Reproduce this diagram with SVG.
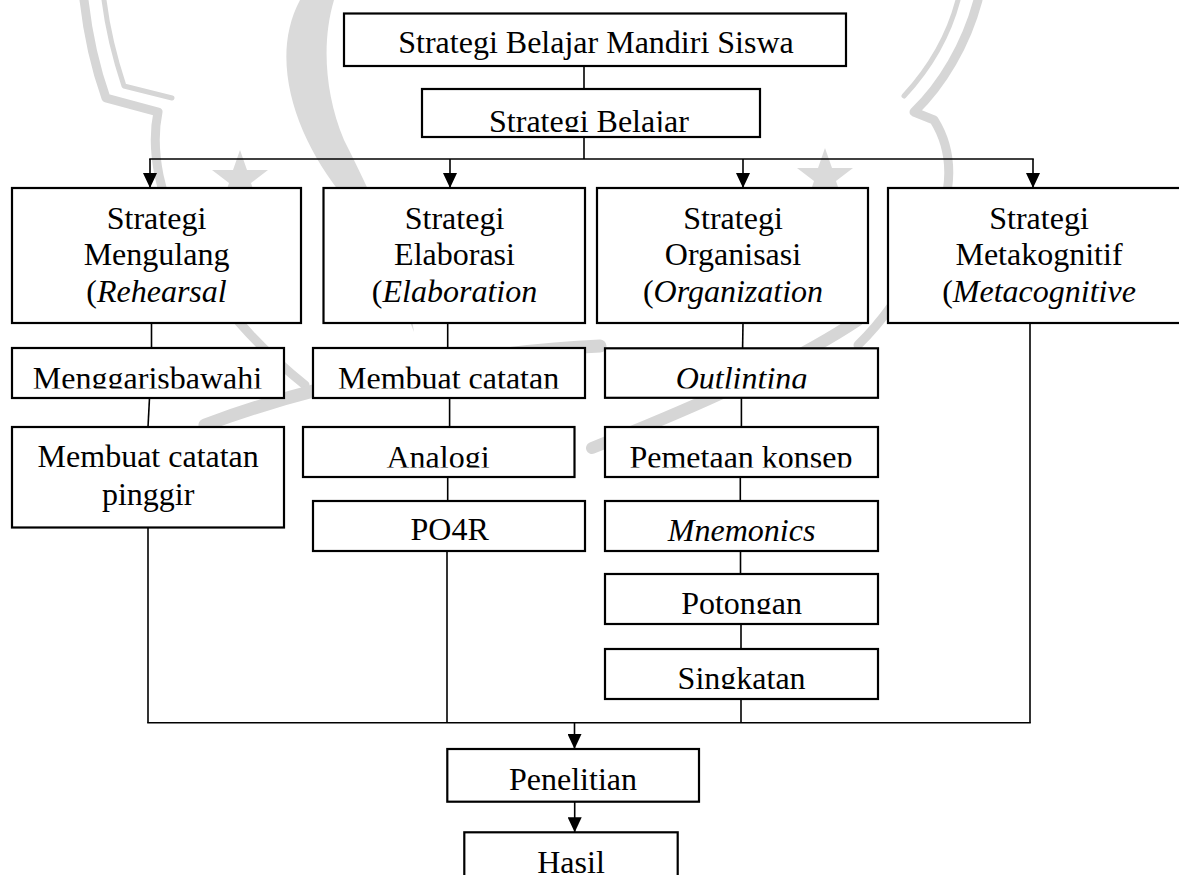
<svg xmlns="http://www.w3.org/2000/svg" width="1179" height="875" viewBox="0 0 1179 875">
<style>
.box{fill:#fff;stroke:#000;stroke-width:2.2}
.t{font-family:"Liberation Serif","Times New Roman",serif;font-size:32px;fill:#000;text-anchor:middle}
.i{font-style:italic}
.c{fill:none;stroke:#000;stroke-width:1.6}
.wm{fill:none;stroke:#d6d6d6;stroke-linecap:round;stroke-linejoin:round}
.wmf{fill:#dadada;stroke:none}
</style>
<defs>
<marker id="arr" markerUnits="userSpaceOnUse" markerWidth="15" markerHeight="14" refX="15" refY="7" orient="auto">
<path d="M0,0 L15,7 L0,14 z" fill="#000"/>
</marker>
<clipPath id="cp2"><rect x="422" y="89" width="338" height="43"/></clipPath>
<clipPath id="cpMg"><rect x="12" y="348" width="272" height="40.5"/></clipPath>
<clipPath id="cpMc"><rect x="313" y="348" width="272" height="40.5"/></clipPath>
<clipPath id="cpOu"><rect x="605" y="348" width="273" height="40.5"/></clipPath>
<clipPath id="cpAn"><rect x="303" y="427" width="272" height="40.5"/></clipPath>
<clipPath id="cpPk"><rect x="605" y="427" width="273" height="40.5"/></clipPath>
<clipPath id="cpMn"><rect x="605" y="501" width="273" height="40.5"/></clipPath>
<clipPath id="cpPo"><rect x="605" y="574" width="273" height="40"/></clipPath>
<clipPath id="cpSi"><rect x="605" y="649" width="273" height="40"/></clipPath>
</defs>
<rect width="1179" height="875" fill="#fff"/>

<g id="watermark">
<path class="wm" stroke-width="9" d="M84,0 C88,35 96,70 106,98 L158,112 C150,150 160,200 185,245 C215,300 255,345 305,385"/>
<path class="wm" stroke-width="5" d="M104,0 C108,32 116,62 124,86 L172,98"/>
<path class="wm" stroke-width="9" d="M978,0 C966,45 942,85 914,112 L934,120 C954,152 954,192 932,236 C908,286 884,320 858,345"/>
<path class="wm" stroke-width="5" d="M958,0 C948,38 928,70 904,96"/>
<path class="wmf" d="M300,0 C268,60 296,140 346,200 C378,250 398,290 414,332 C404,262 374,200 344,140 C324,92 322,40 334,0 Z"/>
<path class="wmf" d="M240,150 L247,170 L268,170 L251,183 L258,204 L240,191 L222,204 L229,183 L212,170 L233,170 Z"/>
<path class="wmf" d="M825,148 L832,168 L853,168 L836,181 L843,202 L825,189 L807,202 L814,181 L797,168 L818,168 Z"/>
<path class="wm" stroke-width="13" d="M205,425 C320,382 470,352 600,346"/>
<path class="wm" stroke-width="12" d="M592,448 C662,420 780,372 858,320"/>
</g>

<g id="connectors">
<line class="c" x1="584" y1="66" x2="584" y2="89"/>
<line class="c" x1="584" y1="137" x2="584" y2="159"/>
<line class="c" x1="149.2" y1="159" x2="1033.8" y2="159"/>
<line class="c" x1="150" y1="159" x2="150" y2="188" marker-end="url(#arr)"/>
<line class="c" x1="450" y1="159" x2="450" y2="188" marker-end="url(#arr)"/>
<line class="c" x1="743" y1="159" x2="743" y2="188" marker-end="url(#arr)"/>
<line class="c" x1="1033" y1="159" x2="1033" y2="188" marker-end="url(#arr)"/>
<line class="c" x1="151.5" y1="323" x2="151.5" y2="348"/>
<line class="c" x1="149.5" y1="398" x2="148" y2="427"/>
<line class="c" x1="148" y1="527" x2="148" y2="722.7"/>
<line class="c" x1="447.7" y1="323" x2="447.7" y2="348"/>
<line class="c" x1="449.6" y1="398" x2="449.6" y2="427"/>
<line class="c" x1="447.7" y1="477" x2="447.7" y2="501"/>
<line class="c" x1="447" y1="551" x2="447" y2="722.7"/>
<line class="c" x1="743" y1="323" x2="742.6" y2="348"/>
<line class="c" x1="741.4" y1="398" x2="741.4" y2="427"/>
<line class="c" x1="740.3" y1="477" x2="740.3" y2="501"/>
<line class="c" x1="740.5" y1="551" x2="740.5" y2="574"/>
<line class="c" x1="741" y1="624" x2="741" y2="649"/>
<line class="c" x1="741" y1="699" x2="741" y2="722.7"/>
<line class="c" x1="1030" y1="323" x2="1030" y2="722.7"/>
<line class="c" x1="147.2" y1="722.7" x2="1030.8" y2="722.7"/>
<line class="c" x1="574.5" y1="722.7" x2="574.5" y2="749" marker-end="url(#arr)"/>
<line class="c" x1="574.7" y1="802" x2="574.7" y2="832.3" marker-end="url(#arr)"/>
</g>

<g id="n-title">
<rect class="box" x="344" y="13.5" width="502" height="52.5"/>
<text class="t" x="596" y="52.5">Strategi Belajar Mandiri Siswa</text>
</g>
<g id="n-strategi-belajar">
<rect class="box" x="422" y="89" width="338" height="48"/>
<text class="t" x="589" y="132" clip-path="url(#cp2)">Strategi Belajar</text>
</g>

<g id="n-rehearsal">
<rect class="box" x="12" y="188" width="289" height="135"/>
<text class="t" x="156.5" y="228.5">Strategi</text>
<text class="t" x="156.5" y="265">Mengulang</text>
<text class="t" x="156.5" y="301.5">(<tspan class="i">Rehearsal</tspan></text>
</g>
<g id="n-elaboration">
<rect class="box" x="323.5" y="188" width="261.5" height="135"/>
<text class="t" x="454.5" y="228.5">Strategi</text>
<text class="t" x="454.5" y="265">Elaborasi</text>
<text class="t" x="454.5" y="301.5">(<tspan class="i">Elaboration</tspan></text>
</g>
<g id="n-organization">
<rect class="box" x="597" y="188" width="271" height="135"/>
<text class="t" x="733" y="228.5">Strategi</text>
<text class="t" x="733" y="265">Organisasi</text>
<text class="t" x="733" y="301.5">(<tspan class="i">Organization</tspan></text>
</g>
<g id="n-metacognitive">
<rect class="box" x="888" y="188" width="302" height="135"/>
<text class="t" x="1039" y="228.5">Strategi</text>
<text class="t" x="1039" y="265">Metakognitif</text>
<text class="t" x="1039" y="301.5">(<tspan class="i">Metacognitive</tspan></text>
</g>

<g id="n-menggarisbawahi">
<rect class="box" x="12" y="348" width="272" height="50"/>
<text class="t" x="147.5" y="389" clip-path="url(#cpMg)">Menggarisbawahi</text>
</g>
<g id="n-catatan-pinggir">
<rect class="box" x="12" y="427" width="272" height="100.5"/>
<text class="t" x="148.2" y="467">Membuat catatan</text>
<text class="t" x="148.2" y="505">pinggir</text>
</g>

<g id="n-membuat-catatan">
<rect class="box" x="313" y="348" width="272" height="50"/>
<text class="t" x="448.6" y="389" clip-path="url(#cpMc)">Membuat catatan</text>
</g>
<g id="n-analogi">
<rect class="box" x="303" y="427" width="271.5" height="50"/>
<text class="t" x="438" y="468" clip-path="url(#cpAn)">Analogi</text>
</g>
<g id="n-po4r">
<rect class="box" x="313" y="501" width="272" height="50"/>
<text class="t" x="449.6" y="540">PO4R</text>
</g>

<g id="n-outlinting">
<rect class="box" x="605" y="348.3" width="273" height="49.5"/>
<text class="t i" x="741.5" y="389" clip-path="url(#cpOu)">Outlinting</text>
</g>
<g id="n-pemetaan">
<rect class="box" x="605" y="427" width="273" height="50"/>
<text class="t" x="741" y="468" clip-path="url(#cpPk)">Pemetaan konsep</text>
</g>
<g id="n-mnemonics">
<rect class="box" x="605" y="501" width="273" height="50"/>
<text class="t i" x="741.6" y="541" clip-path="url(#cpMn)">Mnemonics</text>
</g>
<g id="n-potongan">
<rect class="box" x="605" y="574" width="273" height="50"/>
<text class="t" x="741.6" y="614" clip-path="url(#cpPo)">Potongan</text>
</g>
<g id="n-singkatan">
<rect class="box" x="605" y="649" width="273" height="50"/>
<text class="t" x="741.6" y="689" clip-path="url(#cpSi)">Singkatan</text>
</g>

<g id="n-penelitian">
<rect class="box" x="447.3" y="749" width="251.7" height="52.7"/>
<text class="t" x="573" y="789.5">Penelitian</text>
</g>
<g id="n-hasil">
<rect class="box" x="464.3" y="832.3" width="213.4" height="60"/>
<text class="t" x="571" y="872.5">Hasil</text>
</g>
</svg>
